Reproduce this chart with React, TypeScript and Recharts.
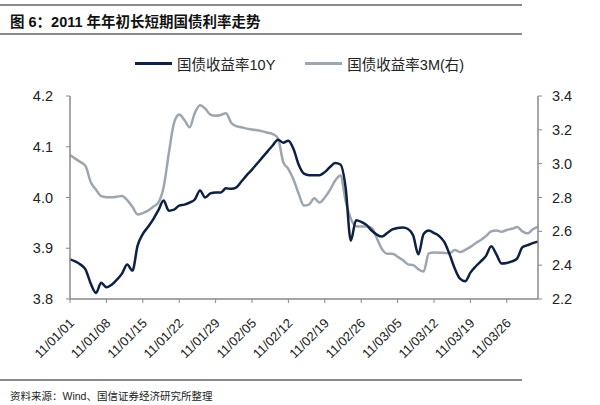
import { LineChart, Line, XAxis, YAxis } from 'recharts'

// one reading per calendar day, 2011-01-01 .. 2011-04-01
const YIELD_10Y = [
  3.878, 3.874, 3.868, 3.858, 3.83, 3.812, 3.832, 3.823, 3.828, 3.838,
  3.85, 3.868, 3.856, 3.905, 3.928, 3.942, 3.957, 3.975, 3.994, 3.974,
  3.976, 3.984, 3.986, 3.99, 3.996, 4.014, 4.0, 4.008, 4.01, 4.01,
  4.018, 4.017, 4.02, 4.032, 4.044, 4.055, 4.067, 4.079, 4.091, 4.103,
  4.114, 4.108, 4.112, 4.095, 4.064, 4.047, 4.044, 4.044, 4.044, 4.05,
  4.06, 4.068, 4.065, 4.02, 3.915, 3.955, 3.952, 3.946, 3.935, 3.927,
  3.923, 3.93, 3.937, 3.94, 3.941, 3.938, 3.925, 3.888, 3.928, 3.935,
  3.93, 3.924, 3.912, 3.888, 3.86, 3.84, 3.835, 3.852, 3.864, 3.874,
  3.885, 3.904, 3.888, 3.87, 3.871, 3.874, 3.88, 3.902, 3.906, 3.91,
  3.913,
]

const YIELD_3M = [
  3.051, 3.03, 3.01, 2.985, 2.89, 2.846, 2.808, 2.802, 2.801, 2.805,
  2.809, 2.785, 2.745, 2.7, 2.708, 2.722, 2.745, 2.77, 2.86, 3.06,
  3.24, 3.29, 3.258, 3.215, 3.3, 3.345, 3.325, 3.29, 3.283, 3.288,
  3.298, 3.242, 3.222, 3.215, 3.207, 3.202, 3.197, 3.191, 3.183, 3.175,
  3.15, 3.01, 2.968, 2.905, 2.82, 2.752, 2.76, 2.795, 2.77, 2.8,
  2.845, 2.9, 2.93, 2.78, 2.675, 2.63, 2.628, 2.628, 2.62, 2.56,
  2.495, 2.468, 2.468, 2.45, 2.43, 2.405, 2.4, 2.375, 2.362, 2.47,
  2.475, 2.474, 2.472, 2.47, 2.49, 2.478, 2.49, 2.508, 2.53, 2.549,
  2.572, 2.6, 2.605, 2.598, 2.608, 2.615, 2.625, 2.6, 2.588, 2.612,
  2.628,
]

const TICK_DAYS = [0, 7, 14, 21, 28, 35, 42, 49, 56, 63, 70, 77, 84]
const TICK_LABELS = [
  '11/01/01', '11/01/08', '11/01/15', '11/01/22', '11/01/29', '11/02/05', '11/02/12',
  '11/02/19', '11/02/26', '11/03/05', '11/03/12', '11/03/19', '11/03/26',
]
const LEFT_TICKS = [3.8, 3.9, 4.0, 4.1, 4.2]
const RIGHT_TICKS = [2.2, 2.4, 2.6, 2.8, 3.0, 3.2, 3.4]

const NAME_10Y = '国债收益率10Y'
const NAME_3M = '国债收益率3M(右)'

const DARK = '#0e2143'
const GRAY = '#9da5ae'
const FONT = '"Liberation Sans", Arial, "Noto Sans CJK SC", sans-serif'

const data = YIELD_10Y.map((v, i) => ({ day: i, y10: v, m3: YIELD_3M[i] }))

function DateTick({ x, y, payload }: any) {
  const label = TICK_LABELS[TICK_DAYS.indexOf(payload.value)]
  const ax = x + 5
  const ay = y + 19
  return (
    <text
      x={ax}
      y={ay}
      transform={`rotate(-45, ${ax}, ${ay})`}
      textAnchor="end"
      fontSize={13}
      fill="#222"
      fontFamily={FONT}
    >
      {label}
    </text>
  )
}

function LegendBox() {
  const item = (color: string, name: string, gap: number) => (
    <div style={{ display: 'flex', alignItems: 'center', marginRight: gap }}>
      <div style={{ width: 37, height: 3, background: color, marginRight: 5 }} />
      <span style={{ fontSize: 14.5, color: '#222' }}>{name}</span>
    </div>
  )
  return (
    <div style={{ position: 'absolute', left: 135, top: 53, display: 'flex', fontFamily: FONT, whiteSpace: 'nowrap' }}>
      {item(DARK, NAME_10Y, 30)}
      {item(GRAY, NAME_3M, 0)}
    </div>
  )
}

export default function App() {
  return (
    <div style={{ position: 'absolute', left: 0, top: 0, width: 600, height: 405, background: '#fff', fontFamily: FONT }}>
      <div style={{ position: 'absolute', left: 0, top: 4, width: 522, height: 1.5, background: '#8a8a8a' }} />
      <div style={{ position: 'absolute', left: 10, top: 10, fontSize: 14.5, fontWeight: 'bold', color: '#111', whiteSpace: 'nowrap' }}>
        图 6：2011 年年初长短期国债利率走势
      </div>
      <div style={{ position: 'absolute', left: 0, top: 33, width: 522, height: 1.5, background: '#8a8a8a' }} />

      <LegendBox />

      <div style={{ position: 'absolute', left: 0, top: 0 }}>
        <LineChart width={600} height={405} data={data} margin={{ top: 96, right: 10, bottom: 46, left: 10 }}>
          <XAxis
            dataKey="day"
            type="number"
            domain={[0, 90]}
            ticks={TICK_DAYS}
            interval={0}
            height={60}
            tick={<DateTick />}
            tickSize={4}
            axisLine={{ stroke: '#888', strokeWidth: 1.5 }}
            tickLine={{ stroke: '#888' }}
          />
          <YAxis
            yAxisId="left"
            width={60}
            domain={[3.8, 4.2]}
            ticks={LEFT_TICKS}
            tickFormatter={(v: number) => v.toFixed(1)}
            tick={{ fontSize: 14.5, fill: '#222', fontFamily: FONT }}
            tickSize={4}
            tickMargin={13}
            axisLine={{ stroke: '#888', strokeWidth: 1.5 }}
            tickLine={{ stroke: '#888' }}
          />
          <YAxis
            yAxisId="right"
            orientation="right"
            width={52}
            domain={[2.2, 3.4]}
            ticks={RIGHT_TICKS}
            tickFormatter={(v: number) => v.toFixed(1)}
            tick={{ fontSize: 14.5, fill: '#222', fontFamily: FONT }}
            tickSize={4}
            tickMargin={10}
            axisLine={{ stroke: '#888', strokeWidth: 1.5 }}
            tickLine={{ stroke: '#888' }}
          />
          <Line
            yAxisId="right"
            type="monotone"
            dataKey="m3"
            name={NAME_3M}
            stroke={GRAY}
            strokeWidth={2.5}
            dot={false}
            isAnimationActive={false}
          />
          <Line
            yAxisId="left"
            type="monotone"
            dataKey="y10"
            name={NAME_10Y}
            stroke={DARK}
            strokeWidth={2.5}
            dot={false}
            isAnimationActive={false}
          />
        </LineChart>
      </div>

      <div style={{ position: 'absolute', left: 0, top: 379, width: 522, height: 1.5, background: '#8a8a8a' }} />
      <div style={{ position: 'absolute', left: 10, top: 388, fontSize: 10.5, color: '#222', whiteSpace: 'nowrap' }}>
        资料来源：Wind、国信证券经济研究所整理
      </div>
    </div>
  )
}
